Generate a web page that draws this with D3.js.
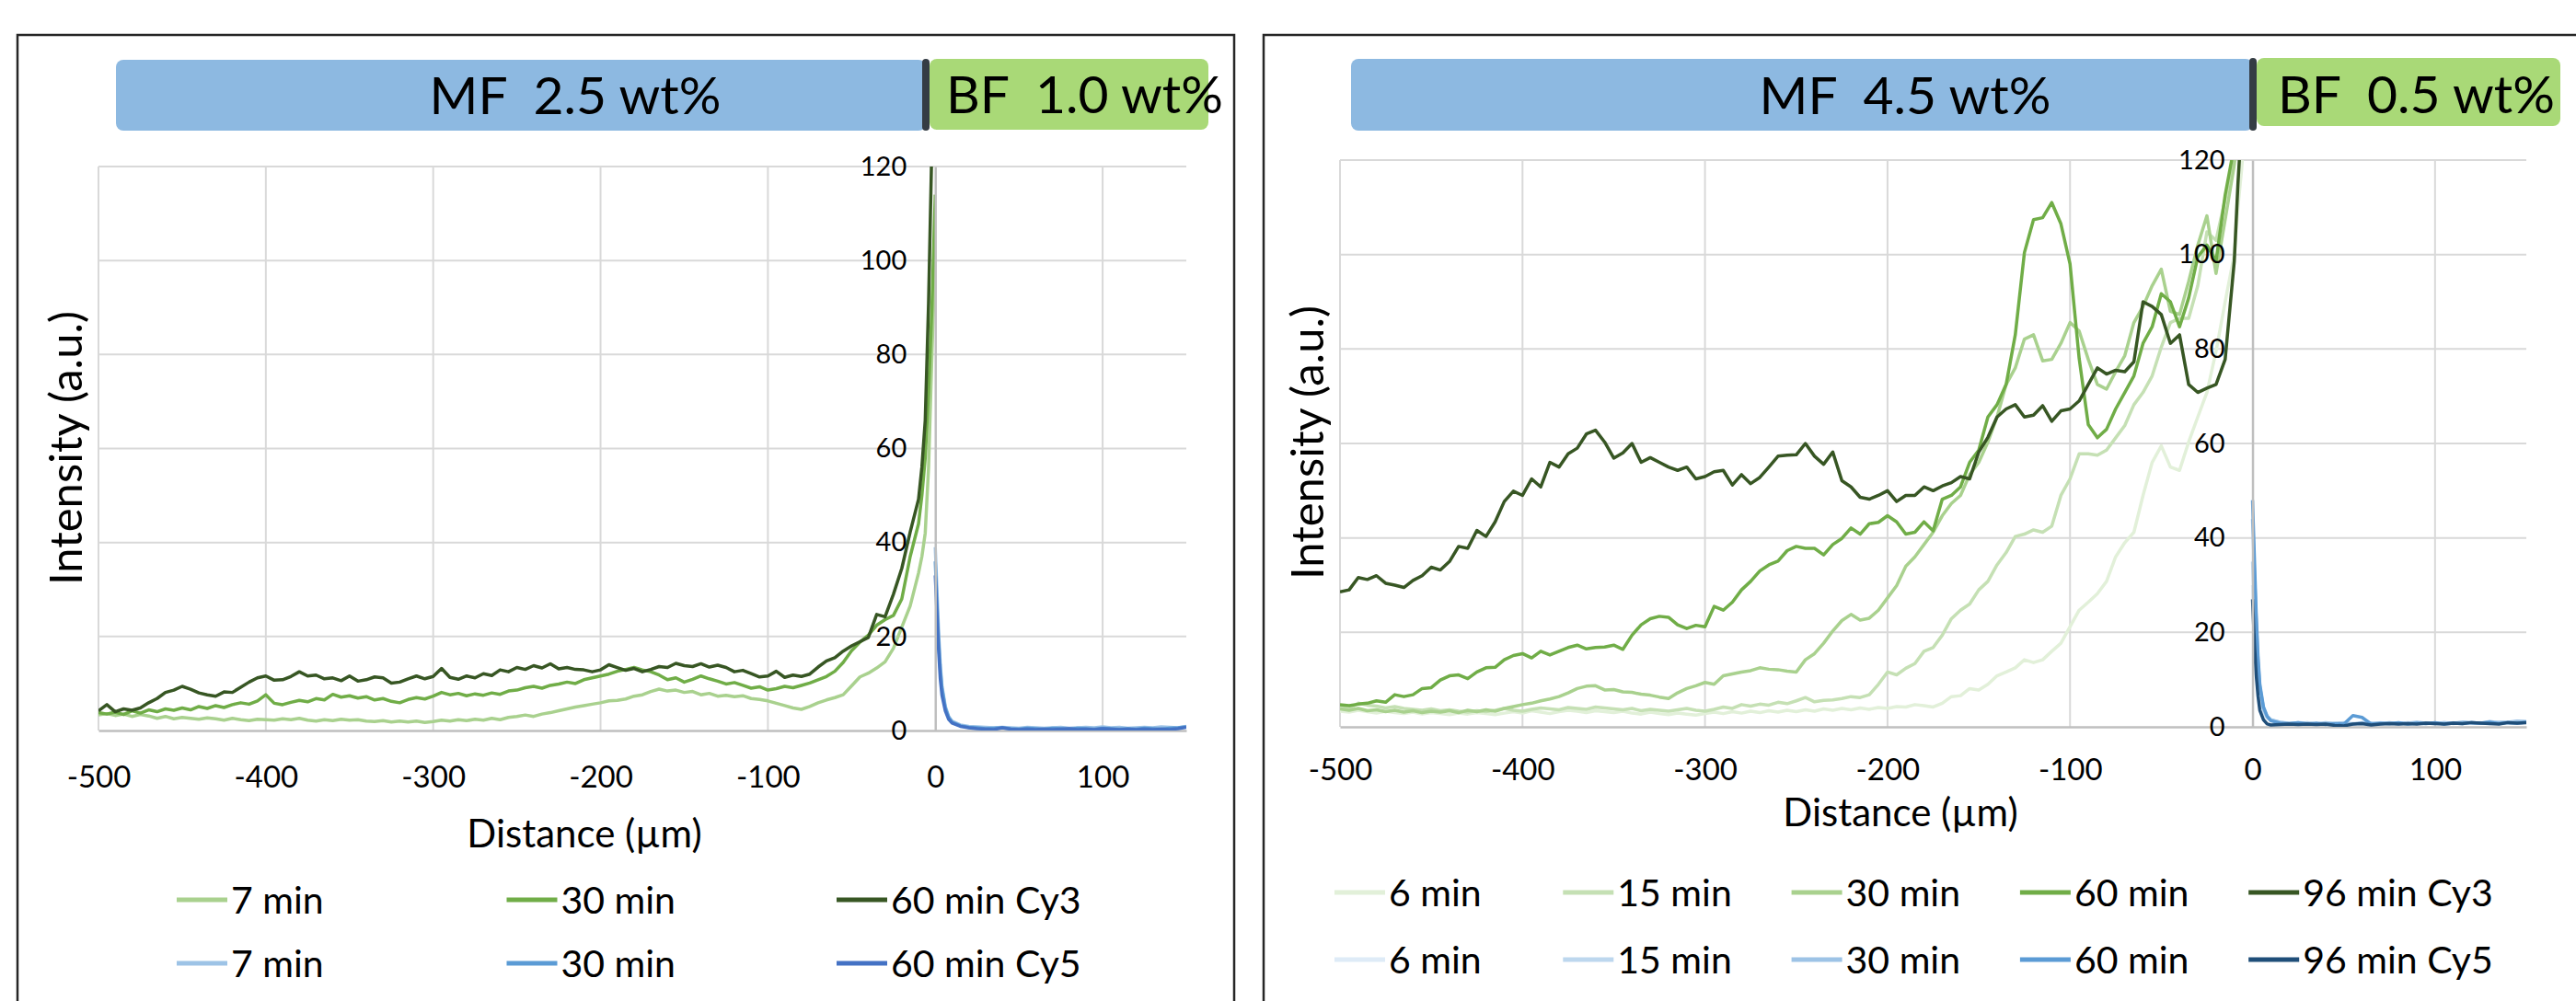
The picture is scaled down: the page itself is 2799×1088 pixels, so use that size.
<!DOCTYPE html>
<html>
<head>
<meta charset="utf-8">
<script src="https://cdn.jsdelivr.net/npm/d3@7"></script>
<style>
  html, body { margin: 0; padding: 0; background: #fff; }
  svg { display: block; font-family: Lato, "Liberation Sans", sans-serif; }
</style>
</head>
<body>
<script>
// distance grids (µm): MF side sampled every 5 µm with a finer tail at the interface
const mfX = d3.range(-500, -9, 5).concat([-8, -6, -4, -2, 0]);
const bfX = [0, 1, 2, 3, 4, 6, 8, 10].concat(d3.range(15, 151, 5));

const xTicks = [-500, -400, -300, -200, -100, 0, 100];
const yTicks = [0, 20, 40, 60, 80, 100, 120];

// ---- left chart: MF 2.5 wt% / BF 1.0 wt%
const leftLabels = ["7 min", "30 min", "60 min"];
const leftCy3_7 = [
  3.3, 3.6, 3.2, 3.5, 3.0, 3.4, 3.1, 2.6, 3.0, 2.5,
  2.8, 2.6, 2.4, 2.7, 2.5, 2.2, 2.6, 2.3, 2.1, 2.4,
  2.3, 2.2, 2.5, 2.3, 2.6, 2.2, 2.0, 2.3, 2.1, 2.4,
  2.2, 2.3, 2.0, 1.9, 2.1, 1.8, 2.0, 1.8, 2.0, 1.7,
  1.9, 2.2, 2.0, 2.3, 2.1, 2.4, 2.2, 2.6, 2.3, 2.8,
  3.0, 3.3, 3.0, 3.5, 3.8, 4.2, 4.6, 5.0, 5.3, 5.6,
  5.9, 6.3, 6.4, 6.7, 7.3, 7.6, 8.3, 8.8, 8.4, 8.6,
  8.1, 8.3, 7.6, 7.9, 7.3, 7.5, 7.2, 7.4, 6.8, 6.6,
  6.3, 5.8, 5.3, 4.8, 4.5, 5.1, 5.9, 6.5, 7.0, 7.6,
  9.5, 11.4, 12.2, 13.3, 14.6, 17.5, 22.0, 26.5, 33.5,
  37, 42, 56, 80, 101];
const leftCy3_30 = [
  3.8, 3.5, 3.9, 3.4, 4.2, 3.7, 4.4, 4.0, 4.6, 4.3,
  4.8, 4.4, 5.1, 4.7, 5.3, 4.9, 5.5, 5.9, 5.6, 6.3,
  7.6, 5.8, 5.5, 6.0, 6.4, 6.1, 6.8, 6.5, 7.7, 7.1,
  7.4, 6.9, 7.2, 6.5, 6.8, 6.2, 5.9, 6.6, 7.0, 6.7,
  7.3, 8.1, 7.6, 7.9, 7.4, 7.8, 7.5, 8.0, 7.7, 8.4,
  8.6, 9.1, 9.4, 9.0, 9.6, 9.9, 10.3, 10.0, 10.8, 11.2,
  11.6, 12.0, 12.6, 13.0, 13.4, 12.9, 12.5, 11.8, 10.8, 11.2,
  10.3, 10.9, 11.6, 11.0, 10.5, 9.9, 10.2, 9.6, 9.0, 9.3,
  8.6, 8.9, 9.4, 9.1, 9.6, 10.1, 10.8, 11.5, 12.6, 14.5,
  17.0, 18.8, 20.3, 22.4, 23.6, 24.5, 28.0, 37.0, 44.0,
  50, 58, 72, 90, 114];
const leftCy3_60 = [
  4.2, 5.5, 4.0, 4.6, 4.3, 4.8, 5.9, 6.8, 8.1, 8.6,
  9.4, 8.8, 8.0, 7.6, 7.3, 8.2, 8.1, 9.2, 10.3, 11.2,
  11.6, 10.7, 10.8, 11.5, 12.5, 11.6, 11.8, 11.0, 11.2, 10.6,
  11.6, 10.5, 10.8, 11.4, 11.2, 10.1, 10.3, 11.0, 11.6, 11.0,
  11.5, 13.2, 11.3, 10.9, 11.6, 11.2, 12.1, 11.7, 12.9, 12.5,
  13.4, 13.0, 13.8, 13.3, 14.2, 13.1, 13.4, 13.0, 12.9, 12.5,
  12.9, 14.0, 13.4, 12.8, 13.2, 12.5, 13.0, 13.6, 13.4, 14.3,
  13.8, 13.6, 14.2, 13.5, 13.9, 13.4, 12.5, 12.8, 12.1, 11.4,
  11.6, 12.6, 11.3, 11.8, 11.5, 12.0, 13.5, 14.8, 15.5, 16.9,
  18.0, 18.9, 19.8, 24.7, 24.2, 29.0, 34.5, 42.2, 49.2,
  56, 66, 91, 125, 150];
const leftCy5_7 = [39, 30, 21, 14, 9.5, 5.2, 3.0, 2.0,
  1.2, 0.9, 0.8, 0.7, 0.6, 0.7, 0.6, 0.5, 0.7, 0.6,
  0.5, 0.6, 0.7, 0.5, 0.6, 0.7, 0.6, 0.8, 0.6, 0.7,
  0.5, 0.6, 0.7, 0.6, 0.8, 0.7, 0.6, 0.9];
const leftCy5_30 = [36, 27, 19, 13, 9, 4.8, 2.8, 1.8,
  1.0, 0.7, 0.6, 0.4, 0.5, 0.6, 0.4, 0.3, 0.5, 0.4,
  0.3, 0.5, 0.4, 0.3, 0.5, 0.4, 0.3, 0.5, 0.4, 0.3,
  0.4, 0.3, 0.5, 0.4, 0.3, 0.5, 0.6, 0.8];
const leftCy5_60 = [33, 25, 17, 11, 7.5, 4.2, 2.4, 1.6,
  0.9, 0.6, 0.4, 0.3, 0.2, 0.6, 0.3, 0.2, 0.3, 0.2,
  0.3, 0.2, 0.3, 0.4, 0.2, 0.3, 0.2, 0.4, 0.3, 0.2,
  0.3, 0.2, 0.3, 0.2, 0.3, 0.2, 0.4, 0.7];

// ---- right chart: MF 4.5 wt% / BF 0.5 wt%
const rightLabels = ["6 min", "15 min", "30 min", "60 min", "96 min"];
const rightCy3_6 = [
  3.3, 3.1, 3.5, 3.2, 2.9, 3.3, 3.0, 2.8, 3.1, 2.7,
  3.0, 2.8, 2.6, 2.9, 2.7, 3.0, 2.8, 2.6, 2.9, 3.2,
  2.9, 3.4, 3.1, 2.8, 3.2, 3.5, 3.3, 3.0, 3.4, 3.2,
  3.0, 3.3, 2.9, 2.7, 3.1, 2.8, 2.6, 2.9, 2.7, 2.5,
  2.8, 3.1, 2.8, 3.2, 2.9, 3.3, 3.0, 3.4, 3.1, 3.5,
  3.2, 3.6, 3.3, 3.8, 3.5, 3.9, 3.6, 4.0, 3.7, 4.1,
  3.9, 4.3, 4.2, 4.7, 4.5, 4.2, 5.0, 6.4, 6.6, 8.1,
  7.8, 9.0, 10.8, 11.6, 12.5, 14.2, 13.6, 14.2, 16.0, 17.7,
  21.2, 24.7, 26.4, 28.2, 30.8, 36.0, 39.0, 41.2, 49.0, 56.0,
  59.5, 55.0, 54.3, 60.3, 65.6, 70.8, 79.5, 90.0, 100,
  110, 118, 128, 138, 150];
const rightCy3_15 = [
  4.2, 3.8, 5.0, 4.6, 4.4, 4.0, 4.3, 3.9, 3.7, 3.5,
  3.8, 3.4, 3.6, 3.3, 3.1, 3.4, 3.2, 3.5, 3.9, 3.5,
  3.3, 3.7, 4.0, 3.8, 3.6, 4.1, 3.9, 3.7, 4.2, 4.0,
  3.8, 3.6, 3.9, 3.4, 3.7, 3.5, 3.3, 3.6, 3.9, 3.5,
  3.3, 3.7, 4.2, 3.9, 4.7, 4.4, 4.8, 4.6, 5.2, 4.9,
  5.5, 6.2, 5.3, 5.6, 5.7, 6.0, 6.4, 6.2, 6.8, 9.0,
  11.6, 11.0, 12.4, 13.4, 16.0, 16.8, 19.4, 22.9, 24.7, 26.0,
  29.0, 30.8, 34.3, 36.9, 40.3, 40.8, 41.7, 41.2, 42.5, 49.0,
  52.5, 57.8, 57.8, 57.5, 58.6, 61.2, 63.8, 68.2, 70.8, 74.3,
  80.4, 85.6, 86.5, 86.5, 93.4, 104.8, 103.0, 111.7, 122,
  128, 136, 145, 155, 165];
const rightCy3_30 = [
  3.8, 3.5, 3.9, 3.4, 3.6, 3.2, 3.5, 3.1, 3.4, 3.0,
  3.3, 3.1, 3.4, 3.0, 3.5, 3.2, 3.6, 3.3, 3.9, 4.3,
  4.7, 5.0, 5.5, 5.9, 6.4, 7.2, 8.1, 8.6, 8.7, 7.8,
  7.9, 7.4, 7.3, 6.9, 6.7, 6.3, 6.0, 7.2, 8.1, 8.7,
  9.4, 9.0, 10.8, 11.2, 11.6, 11.9, 12.5, 12.2, 12.1, 11.8,
  11.6, 14.2, 15.5, 17.7, 20.3, 22.5, 23.8, 22.6, 23.0, 24.7,
  27.3, 29.9, 34.0, 36.0, 38.6, 41.2, 44.7, 47.3, 49.0, 53.4,
  56.0, 60.3, 65.6, 72.5, 76.0, 82.1, 83.0, 77.5, 77.8, 81.2,
  85.6, 83.8, 77.8, 72.5, 71.5, 75.2, 78.6, 85.6, 89.0, 93.4,
  96.9, 88.0, 87.3, 94.3, 102.0, 108.2, 96.0, 107.4, 119,
  126, 135, 145, 155, 165];
const rightCy3_60 = [
  4.7, 4.5, 4.8, 5.0, 5.5, 5.2, 6.8, 6.4, 6.8, 8.1,
  8.3, 9.9, 10.8, 11.0, 10.2, 11.6, 12.5, 12.6, 14.2, 15.1,
  15.5, 14.6, 16.0, 15.2, 16.0, 16.8, 17.3, 16.5, 16.8, 16.9,
  17.3, 16.4, 19.4, 21.6, 22.9, 23.4, 23.2, 21.6, 20.8, 21.5,
  21.2, 25.5, 24.7, 26.4, 29.0, 30.8, 33.0, 34.3, 35.1, 37.3,
  38.2, 37.8, 37.8, 36.4, 38.6, 39.9, 42.1, 40.8, 43.0, 43.3,
  44.7, 43.4, 40.8, 41.2, 43.4, 41.5, 48.2, 49.0, 50.8, 56.0,
  58.6, 65.6, 68.2, 72.5, 83.0, 100.4, 107.4, 107.8, 111.0, 106.5,
  98.0, 78.0, 64.0, 61.2, 63.0, 67.3, 70.8, 74.3, 81.2, 84.7,
  91.7, 90.0, 84.7, 90.8, 99.5, 102.0, 98.6, 112.6, 123,
  130, 140, 150, 160, 170];
const rightCy3_96 = [
  28.6, 29.0, 31.6, 31.2, 32.0, 30.4, 30.0, 29.5, 31.0, 32.0,
  33.8, 33.2, 35.0, 38.2, 37.8, 41.6, 40.3, 43.4, 47.7, 49.9,
  49.0, 52.5, 50.8, 56.0, 55.0, 57.8, 59.0, 62.0, 62.8, 60.3,
  56.9, 58.0, 60.0, 56.0, 57.0, 56.0, 55.0, 54.3, 55.0, 52.5,
  53.0, 54.0, 54.3, 51.2, 53.4, 51.5, 52.8, 55.0, 57.3, 57.5,
  57.6, 60.0, 57.3, 55.6, 58.2, 52.1, 50.8, 48.6, 48.2, 49.0,
  50.0, 47.7, 49.0, 49.0, 50.8, 50.0, 51.0, 51.7, 53.0, 52.5,
  58.2, 61.3, 65.6, 67.3, 68.2, 65.6, 66.0, 68.0, 64.7, 66.9,
  67.3, 69.0, 72.5, 76.0, 74.7, 75.5, 75.2, 77.3, 90.0, 89.0,
  87.3, 81.2, 83.0, 72.5, 70.8, 71.7, 72.5, 77.8, 98.6,
  115, 128, 140, 150, 160];
const rightCy5_6 = [30, 22, 15, 9.5, 6, 3, 1.8, 1.3,
  0.9, 0.7, 0.8, 0.6, 0.7, 0.8, 0.6, 0.7, 0.8, 0.6,
  0.7, 0.9, 0.7, 0.6, 0.8, 0.7, 0.9, 0.8, 0.7, 0.9,
  0.8, 1.0, 0.8, 0.9, 1.0, 0.8, 0.9, 1.0];
const rightCy5_15 = [35, 26, 18, 11, 7, 3.4, 2.0, 1.4,
  1.0, 0.8, 0.7, 0.9, 0.6, 0.8, 0.7, 0.9, 0.6, 0.8,
  0.7, 0.6, 0.8, 0.7, 0.9, 0.8, 0.7, 0.8, 0.9, 0.7,
  1.0, 0.8, 0.9, 0.7, 1.0, 0.9, 1.1, 1.0];
const rightCy5_30 = [44, 33, 23, 14, 8.5, 4.0, 2.3, 1.5,
  1.0, 0.7, 0.9, 0.8, 0.6, 0.9, 0.7, 0.8, 0.6, 0.9,
  0.8, 0.7, 0.9, 0.7, 0.8, 1.0, 0.8, 0.7, 0.9, 0.8,
  1.0, 0.9, 0.8, 1.1, 0.9, 1.0, 1.2, 1.1];
const rightCy5_60 = [48, 36, 24, 15, 9, 4.2, 2.2, 1.3,
  0.8, 0.7, 0.9, 0.6, 0.8, 0.5, 0.7, 0.6, 2.4, 2.0,
  0.6, 0.8, 0.7, 0.9, 0.6, 0.8, 0.7, 0.9, 0.6, 0.8,
  0.7, 0.9, 0.8, 1.0, 0.7, 0.9, 0.8, 1.0];
const rightCy5_96 = [27, 18, 11, 6.5, 3.5, 1.5, 0.6, 0.4,
  0.5, 0.6, 0.5, 0.6, 0.5, 0.6, 0.3, 0.2, 0.6, 0.7,
  0.4, 0.6, 0.7, 0.6, 0.7, 0.6, 0.8, 0.7, 0.6, 0.8,
  0.7, 0.9, 0.8, 0.7, 0.6, 0.9, 0.8, 0.9];

const W = 2799, H = 1088;
const svg = d3.select("body").append("svg")
  .attr("width", W).attr("height", H);

const panels = [
  {
    id: "L",
    frame: [19, 1341],
    plot: { x0: 107, x1: 1289, y0: 794, y1: 181 },
    banner: { blue: [126, 1006, 65, 142], green: [1010, 1313, 64, 141],
              mf: "MF  2.5 wt%", mfX: 625, bf: "BF  1.0 wt%", bfX: 1028 },
    yTitle: [89, 487], xTitle: [635, 921], xTickY: 856, yTickGap: 31,
    labels: leftLabels,
    green: [leftCy3_7, leftCy3_30, leftCy3_60],
    blue: [leftCy5_7, leftCy5_30, leftCy5_60],
    greenColors: ["#a9d18e", "#70ad47", "#375623"],
    blueColors: ["#9dc3e6", "#5b9bd5", "#4472c4"],
    legend: { x: 192, step: 358.5, rows: [978, 1047] }
  },
  {
    id: "R",
    frame: [1373, 2810],
    plot: { x0: 1456, x1: 2745, y0: 790, y1: 174 },
    banner: { blue: [1468, 2448, 64, 142], green: [2452, 2782, 63, 137],
              mf: "MF  4.5 wt%", mfX: 2070, bf: "BF  0.5 wt%", bfX: 2475 },
    yTitle: [1438, 481], xTitle: [2065, 898], xTickY: 848, yTickGap: 30,
    labels: rightLabels,
    green: [rightCy3_6, rightCy3_15, rightCy3_30, rightCy3_60, rightCy3_96],
    blue: [rightCy5_6, rightCy5_15, rightCy5_30, rightCy5_60, rightCy5_96],
    greenColors: ["#e2f0d9", "#c5e0b4", "#a9d18e", "#70ad47", "#375623"],
    blueColors: ["#deebf7", "#bdd7ee", "#9dc3e6", "#5b9bd5", "#1f4e79"],
    legend: { x: 1450, step: 248.3, rows: [970, 1043] }
  }
];

panels.forEach(drawPanel);

function drawPanel(p) {
  const g = svg.append("g");

  // outer frame (bottom runs off the picture)
  g.append("rect")
    .attr("x", p.frame[0]).attr("y", 38)
    .attr("width", p.frame[1] - p.frame[0]).attr("height", H)
    .attr("fill", "none").attr("stroke", "#262626").attr("stroke-width", 2.5);

  // MF / BF banner
  const b = p.banner;
  g.append("rect")
    .attr("x", b.blue[0]).attr("y", b.blue[2])
    .attr("width", b.blue[1] - b.blue[0]).attr("height", b.blue[3] - b.blue[2])
    .attr("rx", 8).attr("fill", "#8db9e1");
  g.append("rect")
    .attr("x", b.green[0]).attr("y", b.green[2])
    .attr("width", b.green[1] - b.green[0]).attr("height", b.green[3] - b.green[2])
    .attr("rx", 8).attr("fill", "#a9d977");
  g.append("rect")
    .attr("x", b.blue[1] - 4).attr("y", Math.min(b.blue[2], b.green[2]))
    .attr("width", 8).attr("height", b.blue[3] - Math.min(b.blue[2], b.green[2]))
    .attr("rx", 4).attr("fill", "#343c44");
  g.append("text")
    .attr("x", b.mfX).attr("y", 124)
    .attr("text-anchor", "middle")
    .style("font-size", "57px").style("white-space", "pre")
    .text(b.mf);
  g.append("text")
    .attr("x", b.bfX).attr("y", 123)
    .style("font-size", "57px").style("white-space", "pre")
    .text(b.bf);

  const pl = p.plot;
  const x = d3.scaleLinear().domain([-500, 150]).range([pl.x0, pl.x1]);
  const y = d3.scaleLinear().domain([0, 120]).range([pl.y0, pl.y1]);

  // gridlines
  g.append("g")
    .selectAll("line.h")
    .data(yTicks.slice(1))
    .join("line")
    .attr("x1", pl.x0).attr("x2", pl.x1)
    .attr("y1", d => y(d)).attr("y2", d => y(d))
    .attr("stroke", "#d9d9d9").attr("stroke-width", 2);
  g.append("g")
    .selectAll("line.v")
    .data(xTicks.filter(d => d !== 0))
    .join("line")
    .attr("x1", d => x(d)).attr("x2", d => x(d))
    .attr("y1", pl.y0).attr("y2", pl.y1)
    .attr("stroke", "#d9d9d9").attr("stroke-width", 2);

  // axes: x at y=0, y at x=0
  const xAxis = g.append("g")
    .attr("transform", `translate(0,${y(0)})`)
    .call(d3.axisBottom(x).tickValues(xTicks).tickSize(0).tickFormat(d => String(d)));
  xAxis.select(".domain").attr("stroke", "#bfbfbf").attr("stroke-width", 2.5);
  xAxis.selectAll("text")
    .attr("y", p.xTickY - y(0)).attr("dy", null)
    .style("font-family", "Lato, sans-serif").style("font-size", "33px").attr("fill", "#000");

  const yAxis = g.append("g")
    .attr("transform", `translate(${x(0)},0)`)
    .call(d3.axisLeft(y).tickValues(yTicks).tickSize(0).tickPadding(p.yTickGap));
  yAxis.select(".domain").attr("stroke", "#bfbfbf").attr("stroke-width", 2.5);

  // data lines, clipped to the plot area
  const clipId = "clip" + p.id;
  svg.append("clipPath").attr("id", clipId)
    .append("rect")
    .attr("x", pl.x0).attr("y", pl.y1)
    .attr("width", pl.x1 - pl.x0).attr("height", pl.y0 - pl.y1);

  const line = d3.line().x(d => x(d[0])).y(d => y(d[1]));
  const lines = g.append("g").attr("clip-path", `url(#${clipId})`);

  p.green.forEach((vals, i) => {
    lines.append("path")
      .datum(mfX.map((d, j) => [d, vals[j]]))
      .attr("d", line)
      .attr("fill", "none")
      .attr("stroke", p.greenColors[i])
      .attr("stroke-width", 3.5)
      .attr("stroke-linejoin", "round");
  });
  p.blue.forEach((vals, i) => {
    lines.append("path")
      .datum(bfX.map((d, j) => [d, vals[j]]))
      .attr("d", line)
      .attr("fill", "none")
      .attr("stroke", p.blueColors[i])
      .attr("stroke-width", 3.5)
      .attr("stroke-linejoin", "round");
  });

  // y tick labels sit above the lines
  yAxis.raise();
  yAxis.selectAll("text")
    .style("font-family", "Lato, sans-serif").style("font-size", "29px").attr("fill", "#000");

  // axis titles
  g.append("text")
    .attr("transform", `translate(${p.yTitle[0]},${p.yTitle[1]}) rotate(-90)`)
    .attr("text-anchor", "middle")
    .style("font-size", "49px")
    .text("Intensity (a.u.)");
  g.append("text")
    .attr("x", p.xTitle[0]).attr("y", p.xTitle[1])
    .attr("text-anchor", "middle")
    .style("font-size", "42px")
    .text("Distance (µm)");

  // legend: green row (Cy3) and blue row (Cy5)
  const lg = p.legend;
  const n = p.labels.length;
  [[p.greenColors, " Cy3", lg.rows[0]], [p.blueColors, " Cy5", lg.rows[1]]].forEach(([cols, suffix, ry]) => {
    p.labels.forEach((lab, i) => {
      const lx = lg.x + i * lg.step;
      g.append("line")
        .attr("x1", lx).attr("x2", lx + 55)
        .attr("y1", ry).attr("y2", ry)
        .attr("stroke", cols[i]).attr("stroke-width", 5);
      g.append("text")
        .attr("x", lx + 59).attr("y", ry + 15)
        .style("font-size", "41px")
        .text(i === n - 1 ? lab + suffix : lab);
    });
  });
}
</script>
</body>
</html>
